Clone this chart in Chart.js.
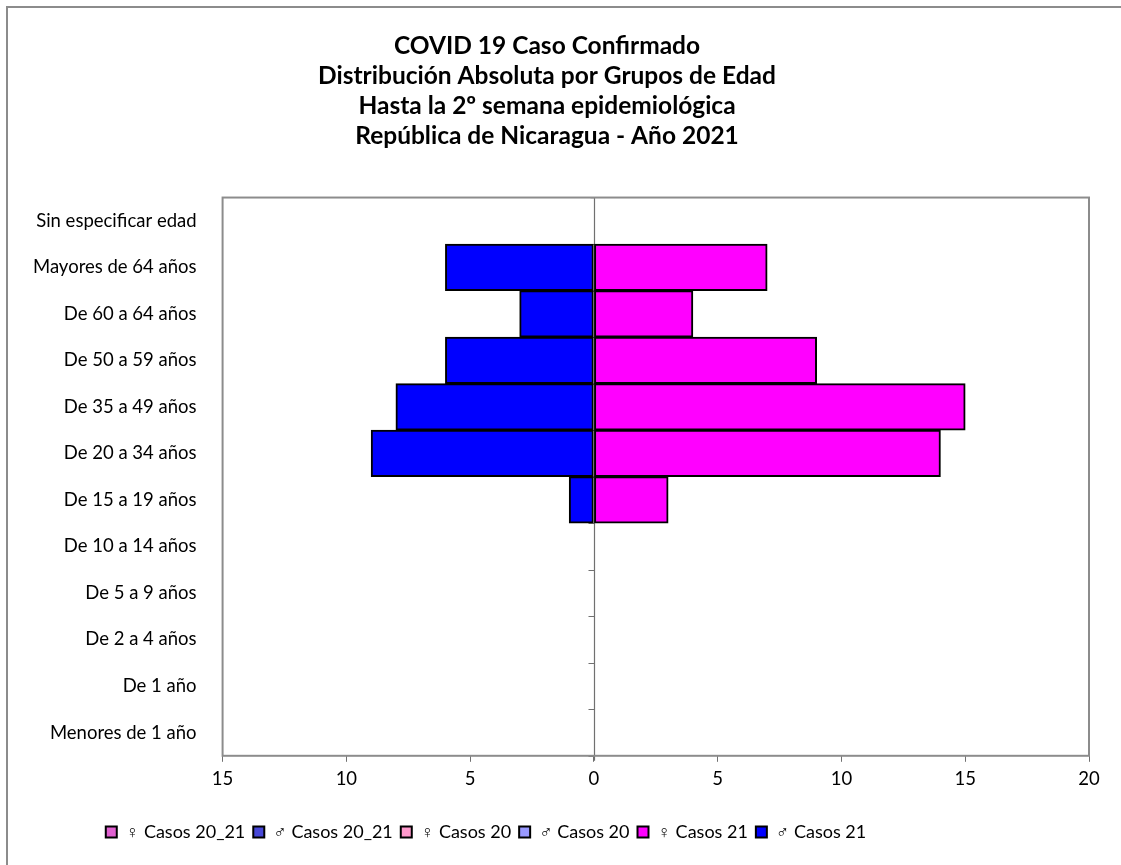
<!DOCTYPE html>
<html>
<head>
<meta charset="utf-8">
<script src="https://cdn.jsdelivr.net/npm/chart.js@4/dist/chart.umd.min.js"></script>
<style>
  html, body { margin: 0; padding: 0; background: #ffffff; }
  #frame {
    position: absolute; left: 6px; top: 6px; width: 1115px; height: 859px;
    border-left: 2px solid #8c8c8c; border-top: 2px solid #8c8c8c;
    box-sizing: border-box; background: #fff;
  }
  #wrap { position: absolute; left: 0; top: 0; width: 1121px; height: 865px; }
  #chart { display: block; width: 1121px; height: 865px; }
</style>
</head>
<body>
<div id="frame"></div>
<div id="wrap"><canvas id="chart" width="1121" height="865"></canvas></div>
<script>
// grupos de edad, de arriba hacia abajo
const grupos = [
    'Sin especificar edad',
    'Mayores de 64 años',
    'De 60 a 64 años',
    'De 50 a 59 años',
    'De 35 a 49 años',
    'De 20 a 34 años',
    'De 15 a 19 años',
    'De 10 a 14 años',
    'De 5 a 9 años',
    'De 2 a 4 años',
    'De 1 año',
    'Menores de 1 año'
];

const mujeres2021 = [0, 7, 4, 9, 15, 14, 3, 0, 0, 0, 0, 0];
const hombres2021 = [0, 6, 3, 6, 8, 9, 1, 0, 0, 0, 0, 0];
const mujeres2020 = [0, 0, 0, 0, 0, 0, 0, 0, 0, 0, 0, 0];
const hombres2020 = [0, 0, 0, 0, 0, 0, 0, 0, 0, 0, 0, 0];
const mujeres2021_20 = [0, 0, 0, 0, 0, 0, 0, 0, 0, 0, 0, 0];
const hombres2021_20 = [0, 0, 0, 0, 0, 0, 0, 0, 0, 0, 0, 0];

const xMin = -15, xMax = 20, xStep = 5;

const titulo = [
    'COVID 19 Caso Confirmado',
    'Distribución Absoluta por Grupos de Edad',
    'Hasta la 2º semana epidemiológica',
    'República de Nicaragua - Año 2021'
];

const FONT = 'Lato, "Open Sans", sans-serif';

// hombres hacia la izquierda
const neg = arr => arr.map(v => -v);

function serie(label, data, color) {
    return {
        label: label,
        data: data,
        backgroundColor: color,
        borderColor: '#000000',
        borderWidth: 2,
        borderSkipped: false,
        barPercentage: 1.0,
        categoryPercentage: 1.0,
        stack: 'piramide'
    };
}

// eje del cero con marcas + marco del area de trazado
const ejeCentro = {
    id: 'ejeCentro',
    afterLayout(chart) {
        // titulo y leyenda no van centrados sobre el lienzo en el original
        const t = chart.titleBlock, l = chart.legend;
        if (t) { t.left -= 1; t.right -= 1; }
        if (l) { l.left -= 62; l.right -= 62; }
    },
    beforeDatasetsDraw(chart) {
        const { ctx, chartArea, scales } = chart;
        const x0 = Math.round(scales.x.getPixelForValue(0)) + 0.5;
        ctx.save();
        ctx.strokeStyle = '#707070';
        ctx.lineWidth = 1.2;
        ctx.beginPath();
        ctx.moveTo(x0 - 4, chartArea.top);
        ctx.lineTo(x0, chartArea.top);
        ctx.lineTo(x0, chartArea.bottom + 5);
        const n = grupos.length;
        const h = (chartArea.bottom - chartArea.top) / n;
        for (let i = 1; i <= n; i++) {
            const y = Math.round(chartArea.top + i * h) + 0.5;
            ctx.moveTo(x0 - 6, y);
            ctx.lineTo(x0, y);
        }
        ctx.stroke();
        ctx.restore();
    },
    afterDatasetsDraw(chart) {
        const { ctx, chartArea } = chart;
        ctx.save();
        ctx.strokeStyle = '#8c8c8c';
        ctx.lineWidth = 2;
        ctx.strokeRect(chartArea.left, chartArea.top,
            chartArea.right - chartArea.left, chartArea.bottom - chartArea.top);
        ctx.restore();
    }
};

new Chart(document.getElementById('chart'), {
    type: 'bar',
    data: {
        labels: grupos,
        datasets: [
            serie('♀ Casos 20_21', mujeres2021_20, '#e060d0'),
            serie('♂ Casos 20_21', neg(hombres2021_20), '#4848d8'),
            serie('♀ Casos 20', mujeres2020, '#ff99cc'),
            serie('♂ Casos 20', neg(hombres2020), '#9999ff'),
            serie('♀ Casos 21', mujeres2021, '#ff00ff'),
            serie('♂ Casos 21', neg(hombres2021), '#0000ff')
        ]
    },
    options: {
        indexAxis: 'y',
        responsive: false,
        animation: false,
        devicePixelRatio: 1,
        layout: { padding: { left: 7, right: 32, top: 31, bottom: 14 } },
        scales: {
            x: {
                stacked: true,
                min: xMin,
                max: xMax,
                afterFit: scale => { scale.height += 19; },
                ticks: {
                    stepSize: xStep,
                    color: '#000000',
                    font: { family: FONT, size: 18.5 },
                    padding: 6,
                    callback: v => Math.abs(v)
                },
                grid: { drawOnChartArea: false, color: '#707070', tickLength: 6 },
                border: { display: false }
            },
            y: {
                stacked: true,
                ticks: {
                    color: '#000000',
                    font: { family: FONT, size: 18.5 },
                    padding: 26
                },
                grid: { display: false, drawTicks: false },
                border: { display: false }
            }
        },
        plugins: {
            title: {
                display: true,
                text: titulo,
                color: '#000000',
                font: { family: FONT, size: 24.5, weight: 'bold', lineHeight: 1.23 },
                padding: { top: 0, bottom: 46 }
            },
            legend: {
                position: 'bottom',
                labels: {
                    color: '#000000',
                    boxWidth: 11,
                    boxHeight: 11,
                    padding: 8,
                    font: { family: FONT, size: 18 }
                }
            },
            tooltip: { enabled: false }
        }
    },
    plugins: [ejeCentro]
});
</script>
</body>
</html>
